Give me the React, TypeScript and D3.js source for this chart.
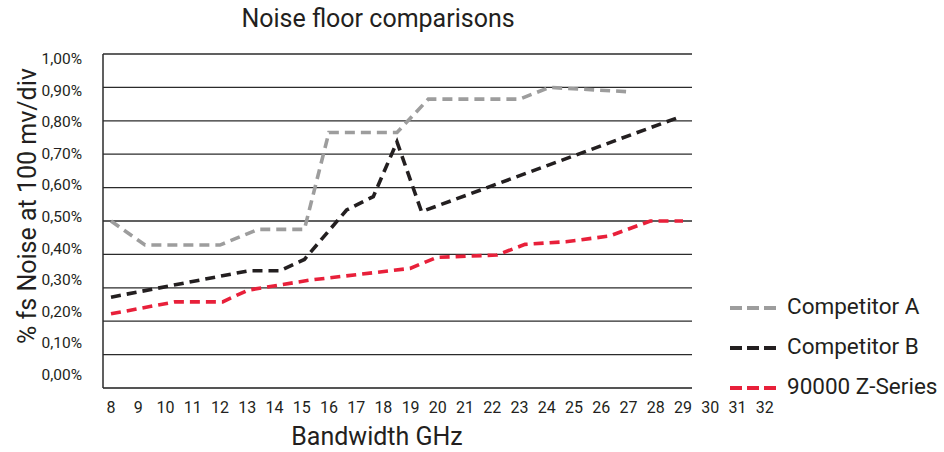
import React from "react";
import * as d3 from "d3";

// ---- data (GHz, % fs noise as fraction of 1%) ----
const competitorA: [number, number][] = [
  [8, 0.5], [9.25, 0.428], [12, 0.428], [13.4, 0.475], [15.1, 0.475],
  [16, 0.765], [18.5, 0.765], [19.65, 0.865], [23, 0.865], [24.1, 0.9], [27, 0.887],
];
const competitorB: [number, number][] = [
  [8, 0.272], [13.05, 0.351], [14.2, 0.351], [15.1, 0.385], [16.65, 0.533],
  [17.63, 0.573], [18.5, 0.737], [19.4, 0.528], [28.9, 0.812],
];
const zSeries: [number, number][] = [
  [8, 0.222], [10.35, 0.258], [12.1, 0.258], [13.03, 0.293], [15.3, 0.323],
  [18.98, 0.358], [19.96, 0.391], [22.16, 0.398], [23.2, 0.43], [24.7, 0.438],
  [26.3, 0.455], [27.8, 0.5], [29, 0.5],
];
const xTicks: number[] = d3.range(8, 33);
const yTicks: number[] = d3.range(0, 11).map((d) => d / 10);
const seriesNames = ["Competitor A", "Competitor B", "90000 Z-Series"];
const seriesColors = ["#9d9d9d", "#231f20", "#e8203a"];

const W = 944;
const H = 452;
const plot = { left: 103, right: 692, top: 54, bottom: 388 };
const FONT = "Roboto, 'Noto Sans', sans-serif";
const TEXT = "#231f20";

export default function App() {
  const x = d3.scaleLinear().domain([8, 29]).range([111, 683]);
  const y = d3.scaleLinear().domain([0, 1]).range([plot.bottom, plot.top]);
  const yLab = d3.scaleLinear().domain([0, 1]).range([376, 60]);
  const line = d3
    .line<[number, number]>()
    .x((d) => x(d[0]))
    .y((d) => y(d[1]));
  const allSeries = [competitorA, competitorB, zSeries];
  const fmt = (v: number) => v.toFixed(2).replace(".", ",") + "%";

  return (
    <svg
      width={W}
      height={H}
      style={{ position: "absolute", left: 0, top: 0, background: "#fff" }}
      fontFamily={FONT}
    >
      <rect width={W} height={H} fill="#fff" />
      {/* gridlines */}
      {yTicks.map((t) => (
        <line
          key={t}
          x1={plot.left}
          x2={plot.right}
          y1={y(t)}
          y2={y(t)}
          stroke={t === 0 ? "#555" : "#2b2b2b"}
          strokeWidth={t === 0 ? 2 : 1.3}
        />
      ))}
      <line x1={plot.left} x2={plot.left} y1={plot.top} y2={plot.bottom} stroke="#2b2b2b" strokeWidth={1.5} />
      {/* y tick labels */}
      {yTicks.map((t) => (
        <text key={t} x={82} y={yLab(t)} textAnchor="end" dominantBaseline="middle" fontSize={15.5} fill={TEXT}>
          {fmt(t)}
        </text>
      ))}
      {/* x tick labels */}
      {xTicks.map((t) => (
        <text key={t} x={x(t)} y={413} textAnchor="middle" fontSize={16} fill={TEXT}>
          {t}
        </text>
      ))}
      {/* series */}
      {allSeries.map((s, i) => (
        <path
          key={i}
          d={line(s) || ""}
          fill="none"
          stroke={seriesColors[i]}
          strokeWidth={3.6}
          strokeDasharray="10,6"
          strokeLinejoin="miter"
        />
      ))}
      {/* titles */}
      <text x={378} y={27} textAnchor="middle" fontSize={25} fill={TEXT}>
        Noise floor comparisons
      </text>
      <text x={377} y={445} textAnchor="middle" fontSize={25} fill={TEXT}>
        Bandwidth GHz
      </text>
      <text transform="translate(36,206) rotate(-90)" textAnchor="middle" fontSize={25} fill={TEXT}>
        % fs Noise at 100 mv/div
      </text>
      {/* legend */}
      {seriesNames.map((n, i) => {
        const ly = 308 + i * 40;
        return (
          <g key={n}>
            <line x1={730} x2={776} y1={ly} y2={ly} stroke={seriesColors[i]} strokeWidth={4} strokeDasharray="12,5" />
            <text x={787} y={ly} dominantBaseline="middle" fontSize={22.5} fill={TEXT}>
              {n}
            </text>
          </g>
        );
      })}
    </svg>
  );
}
